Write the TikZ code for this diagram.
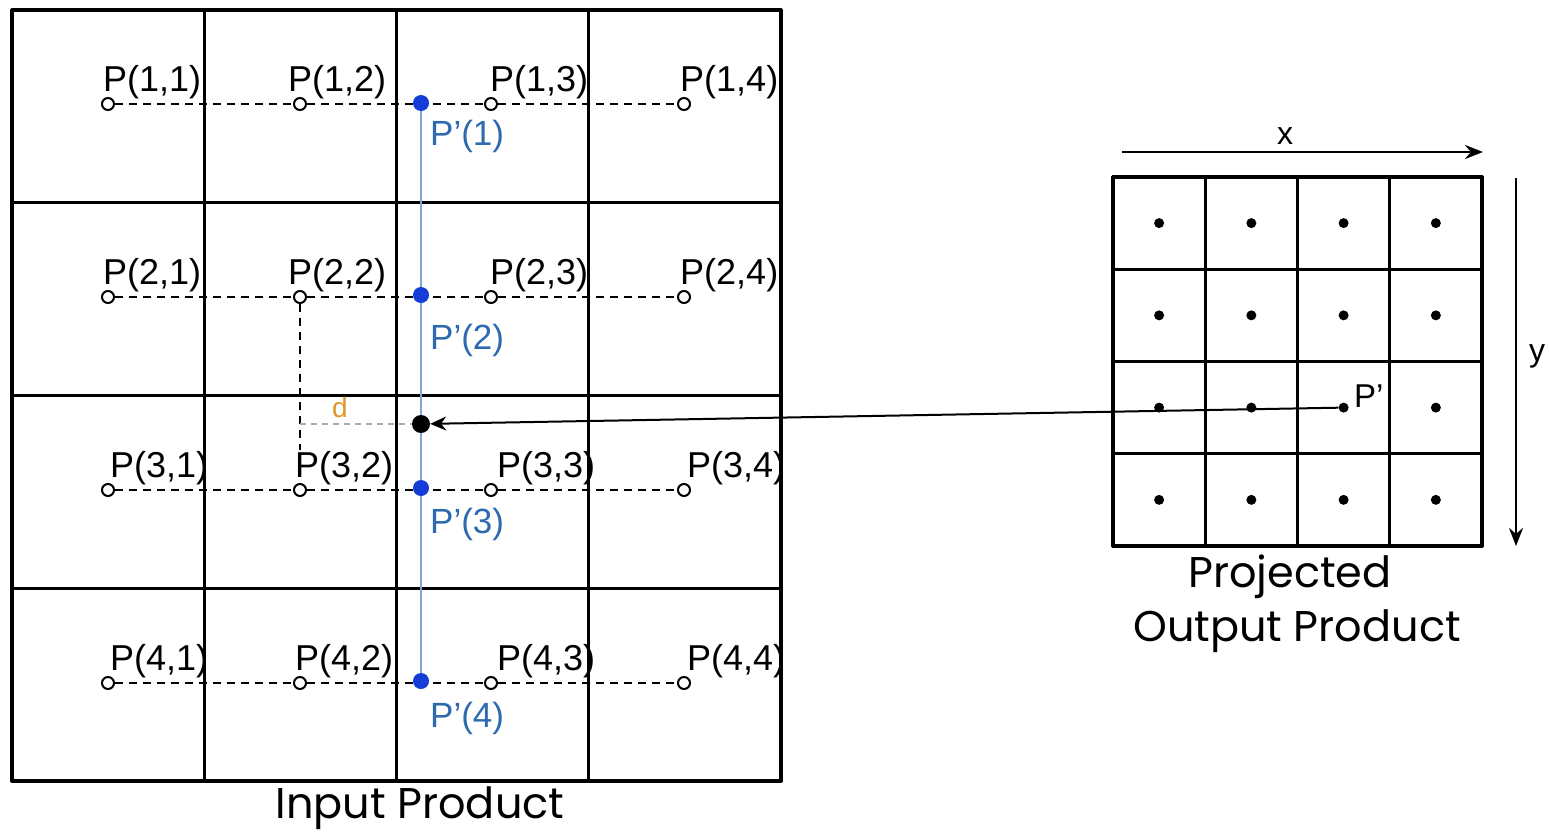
\documentclass[tikz,border=0pt]{standalone}
\usepackage{fontspec}
\setmainfont{Liberation Sans}
\newfontfamily\capfont{Poppins}
\usetikzlibrary{arrows.meta}
\definecolor{pblue}{RGB}{45,105,175}
\definecolor{dotblue}{RGB}{20,60,215}
\definecolor{lineblue}{RGB}{130,165,210}
\definecolor{dorange}{RGB}{225,150,40}
\definecolor{faintgray}{RGB}{170,170,170}
\tikzset{
  gridline/.style={line width=3.2pt, line cap=round, line join=round},
  opendot/.style={circle, draw, fill=white, line width=2pt, inner sep=0pt, minimum size=12pt},
  bluedot/.style={circle, fill=dotblue, inner sep=0pt, minimum size=16pt},
  blackdot/.style={circle, fill=black, inner sep=0pt, minimum size=18pt},
  outdot/.style={circle, fill=black, inner sep=0pt, minimum size=10pt},
  dashrow/.style={dashed, dash pattern=on 8pt off 6pt, line width=2.2pt},
  plabel/.style={anchor=base west, inner sep=0pt, font=\fontsize{36}{40}\selectfont},
  bluelabel/.style={anchor=base west, inner sep=0pt, text=pblue, font=\fontsize{35}{40}\selectfont},
  axislabel/.style={inner sep=0pt, font=\fontsize{32}{36}\selectfont},
  caption/.style={inner sep=0pt, font=\capfont\fontsize{43}{48}\selectfont},
  axisarrow/.style={line width=2.4pt, -{Stealth[length=18pt,width=14pt]}}
}
\begin{document}
\begin{tikzpicture}[x=1pt,y=-1pt]
\useasboundingbox (0,0) rectangle (1549,835);

% input grid, 4 x 4 cells
\foreach \k in {0,...,4} {
  \draw[gridline] ({12+192.25*\k},10) -- ({12+192.25*\k},781);
  \draw[gridline] (12,{10+192.75*\k}) -- (781,{10+192.75*\k});
}

% input sample points and their labels
\foreach \i/\y/\dx in {1/104/-5, 2/297/-5, 3/490/2, 4/683/2} {
  \foreach \j/\x/\cx in {1/108/0, 2/300/-7, 3/491/4, 4/684/1} {
    \node[opendot] (p\i\j) at (\x,\y) {};
    \node[plabel] (l\i\j) at (\x+\dx+\cx,\y-13) {P(\i,\j)};
  }
  \draw[dashrow] (p\i1) -- (p\i2);
  \draw[dashrow] (p\i2) -- (p\i3);
  \draw[dashrow] (p\i3) -- (p\i4);
}

% interpolated points along the column
\foreach \i/\y/\dy in {1/103/42, 2/295/54, 3/488/45, 4/681/46} {
  \node[bluedot] (q\i) at (421,\y) {};
  \node[bluelabel] (ql\i) at (430,\y+\dy) {P'(\i)};
}
\draw[lineblue, line width=1.6pt] (q1) -- (q2) -- (q3) -- (q4);

% projected location and its distance d
\node[blackdot] (bdot) at (421,424) {};
\coordinate (dfoot) at (300,424);
\coordinate (dend) at (300,450);
\draw[dashrow] (p22) -- (dend);
\draw[faintgray, dashed, dash pattern=on 6pt off 5pt, line width=1.2pt] (dfoot) -- (bdot);
\node[inner sep=0pt, text=dorange, font=\fontsize{28}{32}\selectfont] (dlab) at (340,407) {d};

% output grid
\foreach \k in {0,...,4} {
  \draw[gridline] ({1113+92.25*\k},177) -- ({1113+92.25*\k},546);
  \draw[gridline] (1113,{177+92.25*\k}) -- (1482,{177+92.25*\k});
}
\foreach \i in {1,...,4} {
  \foreach \j in {1,...,4} {
    \node[outdot] (o\i\j) at ({1159.1+92.25*(\j-1)},{223.1+92.25*(\i-1)}) {};
  }
}
\node[plabel, font=\fontsize{33}{38}\selectfont] (pplab) at (1354,407) {P'};

% axes of the output grid
\coordinate (xs) at (1122,152);
\coordinate (xe) at (1483,152);
\draw[axisarrow] (xs) -- (xe);
\node[axislabel] (xlab) at (1285,136) {x};
\coordinate (ys) at (1516,178);
\coordinate (ye) at (1516,546);
\draw[axisarrow] (ys) -- (ye);
\node[axislabel] (ylab) at (1537,356) {y};

% mapping from output cell back into the input grid
\draw[line width=2pt, -{Stealth[length=16pt,width=14pt]}] (o33) -- (bdot);

% captions
\node[caption] (incap) at (420,808) {Input Product};
\node[caption] (outcap1) at (1290,577) {Projected};
\node[caption] (outcap2) at (1297,631) {Output Product};
\end{tikzpicture}
\end{document}
